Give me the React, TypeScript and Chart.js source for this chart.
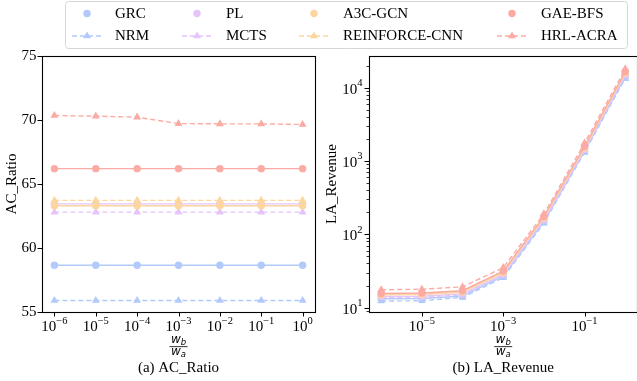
import React, { useEffect, useRef } from 'react';
import { Chart, registerables } from 'chart.js';
Chart.register(...registerables);

// ---------- data ----------
const xValues = [1e-6, 1e-5, 1e-4, 1e-3, 1e-2, 1e-1, 1];
const xExponents = [-6, -5, -4, -3, -2, -1, 0];
const seriesNames = ['GRC', 'NRM', 'PL', 'MCTS', 'A3C-GCN', 'REINFORCE-CNN', 'GAE-BFS', 'HRL-ACRA'];

// (a) AC_Ratio
const acGRC = [58.65, 58.65, 58.65, 58.65, 58.65, 58.65, 58.65];
const acNRM = [55.9, 55.9, 55.9, 55.9, 55.9, 55.9, 55.9];
const acPL = [63.45, 63.45, 63.45, 63.45, 63.45, 63.45, 63.45];
const acMCTS = [62.8, 62.8, 62.8, 62.8, 62.8, 62.8, 62.8];
const acA3C = [63.3, 63.3, 63.3, 63.3, 63.3, 63.3, 63.3];
const acREINFORCE = [63.72, 63.72, 63.72, 63.72, 63.72, 63.72, 63.72];
const acGAE = [66.2, 66.2, 66.2, 66.2, 66.2, 66.2, 66.2];
const acHRL = [70.35, 70.3, 70.22, 69.72, 69.7, 69.7, 69.65];

// (b) LA_Revenue
const laGRC = [13.2, 13.3, 14.4, 26.8, 148, 1360, 14000];
const laNRM = [12.3, 12.4, 13.8, 25.5, 142, 1310, 13300];
const laPL = [14.2, 14.3, 15.4, 28.5, 158, 1440, 15000];
const laMCTS = [13.8, 13.9, 15.0, 27.8, 154, 1400, 14600];
const laA3C = [15.0, 15.1, 16.3, 30.0, 168, 1500, 15800];
const laREINFORCE = [15.2, 15.4, 16.6, 30.5, 170, 1520, 16000];
const laGAE = [15.6, 15.8, 17.0, 31.5, 175, 1580, 16500];
const laHRL = [17.5, 17.8, 19.2, 35.0, 190, 1750, 18000];

const leftYTicks = [55, 60, 65, 70, 75];
const rightYTickExps = [1, 2, 3, 4];
const rightXTickExps = [-5, -3, -1];

// ---------- styles ----------
const BLUE = 'rgb(178,202,251)';
const PURPLE = 'rgb(229,196,250)';
const ORANGE = 'rgb(252,214,158)';
const RED = 'rgb(251,170,164)';
const seriesColors = [BLUE, BLUE, PURPLE, PURPLE, ORANGE, ORANGE, RED, RED];
const seriesDashed = [false, true, false, true, false, true, false, true];
const SERIF = '"Liberation Serif", "DejaVu Serif", serif';

function makeDatasets(values: number[][]) {
  return seriesNames.map((name, i) => ({
    label: name,
    data: xValues.map((x, j) => ({ x, y: values[i][j] })),
    borderColor: seriesColors[i],
    backgroundColor: seriesColors[i],
    borderWidth: 1.4,
    borderDash: seriesDashed[i] ? [5, 3] : [],
    pointStyle: seriesDashed[i] ? 'triangle' : 'circle',
    pointRadius: seriesDashed[i] ? 4.6 : 3.7,
    pointBorderWidth: 0,
    pointBackgroundColor: seriesColors[i],
    order: seriesNames.length - 1 - i,
    tension: 0,
    clip: false as any,
  }));
}

function drawPow(ctx: CanvasRenderingContext2D, x: number, baseY: number, exp: number, align: 'center' | 'right') {
  const baseFont = `15px ${SERIF}`;
  const supFont = `10.5px ${SERIF}`;
  const expStr = exp < 0 ? '\u2212' + Math.abs(exp) : String(exp);
  ctx.font = baseFont;
  const wb = ctx.measureText('10').width;
  ctx.font = supFont;
  const we = ctx.measureText(expStr).width;
  const total = wb + we;
  const x0 = align === 'center' ? x - total / 2 : x - total;
  ctx.textAlign = 'left';
  ctx.textBaseline = 'alphabetic';
  ctx.fillStyle = '#000';
  ctx.font = baseFont;
  ctx.fillText('10', x0, baseY);
  ctx.font = supFont;
  ctx.fillText(expStr, x0 + wb, baseY - 7.5);
}

function drawFraction(ctx: CanvasRenderingContext2D, cx: number, lineY: number) {
  const big = 'italic 12px "DejaVu Sans"';
  const small = 'italic 8.5px "DejaVu Sans"';
  ctx.fillStyle = '#000';
  ctx.textAlign = 'left';
  ctx.textBaseline = 'alphabetic';
  const part = (sub: string, base: number) => {
    ctx.font = big;
    const ww = ctx.measureText('w').width;
    ctx.font = small;
    const ws = ctx.measureText(sub).width;
    const x0 = cx - (ww + ws) / 2;
    ctx.font = big;
    ctx.fillText('w', x0, base);
    ctx.font = small;
    ctx.fillText(sub, x0 + ww, base + 1.8);
  };
  part('b', lineY - 3.4);
  part('a', lineY + 8.6);
  ctx.fillRect(cx - 9, lineY - 0.4, 18, 0.8);
}

function drawFrame(ctx: CanvasRenderingContext2D, a: { left: number; right: number; top: number; bottom: number }) {
  ctx.strokeStyle = '#000';
  ctx.lineWidth = 1.1;
  ctx.strokeRect(Math.round(a.left) + 0.5, Math.round(a.top) + 0.5, Math.round(a.right) - Math.round(a.left), Math.round(a.bottom) - Math.round(a.top));
}

function drawLegend(ctx: CanvasRenderingContext2D) {
  ctx.save();
  ctx.fillStyle = 'rgba(255,255,255,0.9)';
  ctx.strokeStyle = '#d6d6d6';
  ctx.lineWidth = 1;
  ctx.beginPath();
  (ctx as any).roundRect(65.5, 1.5, 562, 47, 3);
  ctx.fill();
  ctx.stroke();
  const markerX = [87, 197, 314, 512];
  const textX = [115, 226, 343, 541];
  const rowY = [13.5, 36];
  for (let i = 0; i < seriesNames.length; i++) {
    const col = Math.floor(i / 2);
    const row = i % 2;
    const mx = markerX[col];
    const my = rowY[row];
    ctx.fillStyle = seriesColors[i];
    ctx.strokeStyle = seriesColors[i];
    if (seriesDashed[i]) {
      ctx.lineWidth = 1.4;
      ctx.setLineDash([5, 3]);
      ctx.beginPath();
      ctx.moveTo(mx - 15, my);
      ctx.lineTo(mx + 15, my);
      ctx.stroke();
      ctx.setLineDash([]);
      const r = 4.6;
      ctx.beginPath();
      ctx.moveTo(mx, my - r);
      ctx.lineTo(mx + r * Math.sin((2 * Math.PI) / 3), my - r * Math.cos((2 * Math.PI) / 3));
      ctx.lineTo(mx + r * Math.sin((4 * Math.PI) / 3), my - r * Math.cos((4 * Math.PI) / 3));
      ctx.closePath();
      ctx.fill();
    } else {
      ctx.beginPath();
      ctx.arc(mx, my, 3.7, 0, Math.PI * 2);
      ctx.fill();
    }
    ctx.fillStyle = '#000';
    ctx.font = `15px ${SERIF}`;
    ctx.textAlign = 'left';
    ctx.textBaseline = 'middle';
    ctx.fillText(seriesNames[i], textX[col], my + 0.5);
  }
  ctx.restore();
}

const leftPlugin = {
  id: 'leftDecor',
  afterDraw(chart: any) {
    const ctx: CanvasRenderingContext2D = chart.ctx;
    const a = chart.chartArea;
    const xs = chart.scales.x;
    const ys = chart.scales.y;
    ctx.save();
    drawFrame(ctx, a);
    ctx.lineWidth = 1;
    ctx.strokeStyle = '#000';
    ctx.beginPath();
    for (const e of xExponents) {
      const px = Math.round(xs.getPixelForValue(Math.pow(10, e))) + 0.5;
      ctx.moveTo(px, a.bottom);
      ctx.lineTo(px, a.bottom + 4.5);
    }
    for (const v of leftYTicks) {
      const py = Math.round(ys.getPixelForValue(v)) + 0.5;
      ctx.moveTo(a.left - 4.5, py);
      ctx.lineTo(a.left, py);
    }
    ctx.stroke();
    ctx.fillStyle = '#000';
    ctx.font = `15px ${SERIF}`;
    ctx.textAlign = 'right';
    ctx.textBaseline = 'middle';
    for (const v of leftYTicks) {
      ctx.fillText(String(v), a.left - 5.5, ys.getPixelForValue(v));
    }
    for (const e of xExponents) {
      drawPow(ctx, xs.getPixelForValue(Math.pow(10, e)), a.bottom + 19, e, 'center');
    }
    const cx = (a.left + a.right) / 2;
    drawFraction(ctx, cx, 346.7);
    ctx.font = `15px ${SERIF}`;
    ctx.textAlign = 'center';
    ctx.textBaseline = 'alphabetic';
    ctx.fillText('(a) AC_Ratio', cx, 372);
    ctx.save();
    ctx.translate(12, (a.top + a.bottom) / 2);
    ctx.rotate(-Math.PI / 2);
    ctx.textBaseline = 'middle';
    ctx.fillText('AC_Ratio', 0, 0);
    ctx.restore();
    drawLegend(ctx);
    ctx.restore();
  },
};

const rightPlugin = {
  id: 'rightDecor',
  afterDraw(chart: any) {
    const ctx: CanvasRenderingContext2D = chart.ctx;
    const a = chart.chartArea;
    const xs = chart.scales.x;
    const ys = chart.scales.y;
    ctx.save();
    drawFrame(ctx, a);
    ctx.lineWidth = 1;
    ctx.strokeStyle = '#000';
    ctx.beginPath();
    for (const e of rightXTickExps) {
      const px = Math.round(xs.getPixelForValue(Math.pow(10, e))) + 0.5;
      ctx.moveTo(px, a.bottom);
      ctx.lineTo(px, a.bottom + 4.5);
    }
    for (const e of rightYTickExps) {
      const py = Math.round(ys.getPixelForValue(Math.pow(10, e))) + 0.5;
      ctx.moveTo(a.left - 4.5, py);
      ctx.lineTo(a.left, py);
    }
    ctx.stroke();
    ctx.lineWidth = 0.8;
    ctx.beginPath();
    for (let e = 0; e <= 4; e++) {
      for (let k = 2; k <= 9; k++) {
        const v = k * Math.pow(10, e);
        if (v < ys.min || v > ys.max) continue;
        const py = Math.round(ys.getPixelForValue(v)) + 0.5;
        ctx.moveTo(a.left - 2.5, py);
        ctx.lineTo(a.left, py);
      }
    }
    ctx.stroke();
    for (const e of rightYTickExps) {
      drawPow(ctx, a.left - 6.5, ys.getPixelForValue(Math.pow(10, e)) + 6, e, 'right');
    }
    for (const e of rightXTickExps) {
      drawPow(ctx, xs.getPixelForValue(Math.pow(10, e)), a.bottom + 19, e, 'center');
    }
    const cx = (a.left + a.right) / 2;
    drawFraction(ctx, cx, 346.7);
    ctx.fillStyle = '#000';
    ctx.font = `15px ${SERIF}`;
    ctx.textAlign = 'center';
    ctx.textBaseline = 'alphabetic';
    ctx.fillText('(b) LA_Revenue', cx, 372);
    ctx.save();
    ctx.translate(12, (a.top + a.bottom) / 2);
    ctx.rotate(-Math.PI / 2);
    ctx.textBaseline = 'middle';
    ctx.fillText('LA_Revenue', 0, 0);
    ctx.restore();
    ctx.restore();
  },
};

export default function App() {
  const leftRef = useRef<HTMLCanvasElement>(null);
  const rightRef = useRef<HTMLCanvasElement>(null);

  useEffect(() => {
    const hidden = { ticks: { display: false }, grid: { display: false }, border: { display: false } };
    const left = new Chart(leftRef.current!, {
      type: 'line',
      data: { datasets: makeDatasets([acGRC, acNRM, acPL, acMCTS, acA3C, acREINFORCE, acGAE, acHRL]) as any },
      options: {
        animation: false,
        responsive: false,
        events: [],
        layout: { padding: { top: 56, right: 322, left: 0, bottom: 0 } },
        plugins: { legend: { display: false }, tooltip: { enabled: false } },
        scales: {
          x: { type: 'logarithmic', min: Math.pow(10, -6.3), max: Math.pow(10, 0.3), ...hidden, afterFit: (s: any) => { s.height = 69; } } as any,
          y: { type: 'linear', min: 55, max: 75, ...hidden, afterFit: (s: any) => { s.width = 42; } } as any,
        },
      },
      plugins: [leftPlugin],
    });
    const right = new Chart(rightRef.current!, {
      type: 'line',
      data: { datasets: makeDatasets([laGRC, laNRM, laPL, laMCTS, laA3C, laREINFORCE, laGAE, laHRL]) as any },
      options: {
        animation: false,
        responsive: false,
        events: [],
        layout: { padding: { top: 56, right: 0, left: 0, bottom: 0 } },
        plugins: { legend: { display: false }, tooltip: { enabled: false } },
        scales: {
          x: { type: 'logarithmic', min: Math.pow(10, -6.3), max: Math.pow(10, 0.3), ...hidden, afterFit: (s: any) => { s.height = 69; } } as any,
          y: { type: 'logarithmic', min: Math.pow(10, 0.94), max: Math.pow(10, 4.432), ...hidden, afterFit: (s: any) => { s.width = 49; } } as any,
        },
      },
      plugins: [rightPlugin],
    });
    return () => {
      left.destroy();
      right.destroy();
    };
  }, []);

  return (
    <div style={{ position: 'absolute', left: 0, top: 0, width: 637, height: 381, overflow: 'hidden', background: '#fff' }}>
      <canvas ref={leftRef} width={637} height={381} style={{ position: 'absolute', left: 0, top: 0, width: 637, height: 381 }} />
      <canvas ref={rightRef} width={322} height={381} style={{ position: 'absolute', left: 320, top: 0, width: 322, height: 381 }} />
    </div>
  );
}
